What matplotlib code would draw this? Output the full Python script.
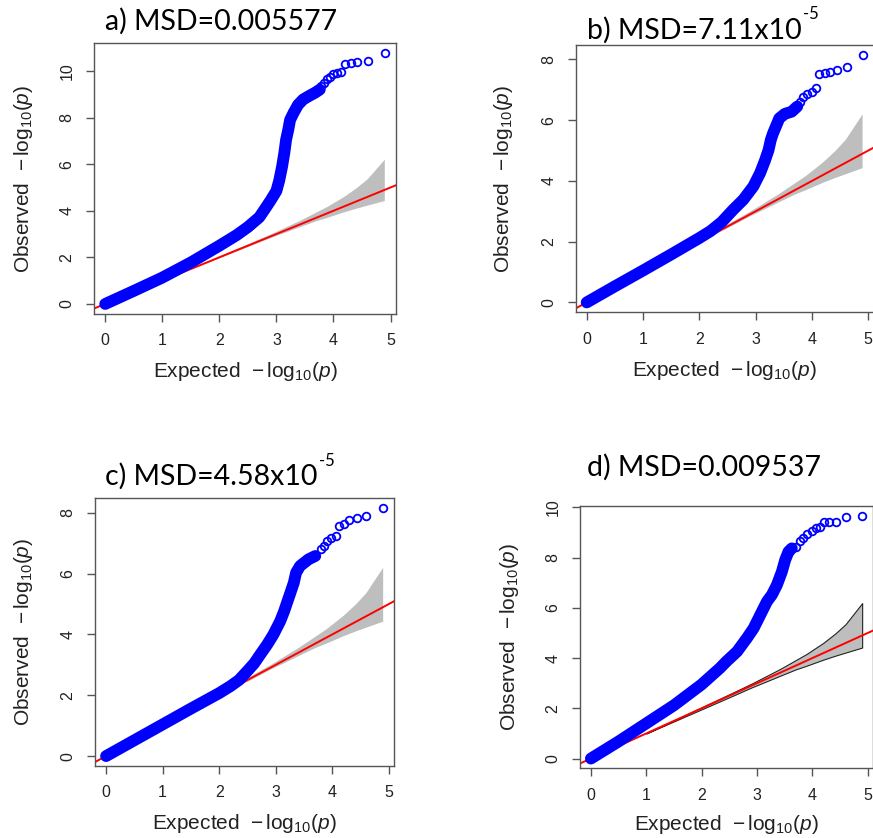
import matplotlib
matplotlib.use("Agg")
import matplotlib.pyplot as plt

# ---------------- data ----------------
titles = ["a) MSD=0.005577", "b) MSD=7.11x10", "c) MSD=4.58x10", "d) MSD=0.009537"]
title_sups = ["", "-5", "-5", ""]

x_ticks = [0, 1, 2, 3, 4, 5]
a_y_ticks = [0, 2, 4, 6, 8, 10]
b_y_ticks = [0, 2, 4, 6, 8]
c_y_ticks = [0, 2, 4, 6, 8]
d_y_ticks = [0, 2, 4, 6, 8, 10]

# dense part of each QQ curve (expected, observed)
a_dense_x = [0, 0.5, 1.0, 1.5, 2.0, 2.3, 2.5, 2.7, 2.8, 2.9, 3.0, 3.05, 3.1, 3.14, 3.17, 3.21, 3.24, 3.30, 3.38, 3.47, 3.59, 3.68, 3.76]
a_dense_y = [0, 0.56, 1.13, 1.78, 2.5, 2.95, 3.3, 3.72, 4.08, 4.45, 4.85, 5.3, 5.9, 6.5, 7.05, 7.5, 7.9, 8.2, 8.55, 8.78, 8.95, 9.07, 9.2]
a_sparse_x = [3.79, 3.83, 3.88, 3.94, 4.00, 4.07, 4.13, 4.21, 4.30, 4.42, 4.60, 4.90]
a_sparse_y = [9.35, 9.50, 9.64, 9.75, 9.85, 9.93, 9.95, 10.30, 10.33, 10.40, 10.43, 10.77]

b_dense_x = [0, 0.5, 1.0, 1.5, 2.0, 2.2, 2.4, 2.6, 2.78, 2.96, 3.08, 3.17, 3.23, 3.27, 3.31, 3.36, 3.42, 3.52, 3.64, 3.74]
b_dense_y = [0, 0.53, 1.05, 1.58, 2.12, 2.35, 2.65, 3.05, 3.38, 3.82, 4.26, 4.69, 5.02, 5.35, 5.57, 5.79, 6.06, 6.21, 6.28, 6.45]
b_sparse_x = [3.79, 3.85, 3.92, 4.00, 4.07, 4.13, 4.23, 4.32, 4.44, 4.62, 4.91]
b_sparse_y = [6.61, 6.78, 6.87, 6.94, 7.05, 7.51, 7.57, 7.60, 7.65, 7.74, 8.15]

c_dense_x = [0, 0.5, 1.0, 1.5, 2.0, 2.2, 2.35, 2.5, 2.62, 2.73, 2.85, 2.96, 3.08, 3.15, 3.21, 3.26, 3.32, 3.36, 3.43, 3.58, 3.70]
c_dense_y = [0, 0.52, 1.04, 1.56, 2.07, 2.3, 2.5, 2.8, 3.05, 3.35, 3.67, 4.0, 4.44, 4.77, 5.10, 5.37, 5.70, 6.03, 6.25, 6.47, 6.58]
c_sparse_x = [3.80, 3.85, 3.90, 3.98, 4.06, 4.12, 4.21, 4.30, 4.43, 4.60, 4.90]
c_sparse_y = [6.80, 6.91, 7.07, 7.18, 7.24, 7.57, 7.62, 7.75, 7.82, 7.88, 8.17]

d_dense_x = [0, 0.5, 1.0, 1.5, 2.0, 2.33, 2.45, 2.64, 2.82, 2.94, 3.06, 3.18, 3.27, 3.36, 3.45, 3.51, 3.57, 3.63]
d_dense_y = [0, 0.68, 1.40, 2.12, 2.95, 3.60, 3.87, 4.26, 4.80, 5.19, 5.72, 6.25, 6.52, 6.91, 7.44, 7.91, 8.24, 8.37]
d_sparse_x = [3.71, 3.77, 3.84, 3.91, 3.99, 4.07, 4.13, 4.21, 4.31, 4.43, 4.60, 4.90]
d_sparse_y = [8.44, 8.66, 8.79, 8.93, 9.06, 9.17, 9.22, 9.40, 9.40, 9.40, 9.60, 9.67]

# confidence band (same in all panels)
band_x = [1.0, 1.5, 2.0, 2.5, 2.9, 3.2, 3.42, 3.7, 3.9, 4.2, 4.42, 4.6, 4.9]
band_upper = [1.0, 1.52, 2.04, 2.56, 2.98, 3.32, 3.57, 3.92, 4.17, 4.61, 4.99, 5.35, 6.19]
band_lower = [1.0, 1.48, 1.96, 2.44, 2.83, 3.10, 3.30, 3.55, 3.70, 3.94, 4.10, 4.22, 4.42]

# ---------------- layout ----------------
W, H = 873, 838
plt.rcParams['mathtext.fontset'] = 'custom'
plt.rcParams['mathtext.rm'] = 'Liberation Sans'
plt.rcParams['mathtext.it'] = 'Liberation Sans:italic'
plt.rcParams['font.family'] = ['Liberation Sans', 'DejaVu Sans']

fig = plt.figure(figsize=(W / 100, H / 100), dpi=100)
fig.patch.set_facecolor('white')

panels = [
    dict(rect=[0.1077, 0.6253, 0.3459, 0.3234], dx=a_dense_x, dy=a_dense_y, sx=a_sparse_x, sy=a_sparse_y,
         yt=a_y_ticks, edge=False, ylab=-0.235, xlab=-0.214, tpos=(105, 29.7)),
    dict(rect=[0.6594, 0.6273, 0.3413, 0.3190], dx=b_dense_x, dy=b_dense_y, sx=b_sparse_x, sy=b_sparse_y,
         yt=b_y_ticks, edge=False, ylab=-0.243, xlab=-0.216, tpos=(586.7, 38.3)),
    dict(rect=[0.1088, 0.0859, 0.3428, 0.3202], dx=c_dense_x, dy=c_dense_y, sx=c_sparse_x, sy=c_sparse_y,
         yt=c_y_ticks, edge=False, ylab=-0.240, xlab=-0.214, tpos=(105, 485)),
    dict(rect=[0.6644, 0.0832, 0.3356, 0.3130], dx=d_dense_x, dy=d_dense_y, sx=d_sparse_x, sy=d_sparse_y,
         yt=d_y_ticks, edge=True, ylab=-0.239, xlab=-0.216, tpos=(586.7, 476)),
]

spine_col = '#555555'
blue = '#0000FF'

for i, p in enumerate(panels):
    ax = fig.add_axes(p['rect'])
    ymax = max(p['sy'])
    xmax = 4.9
    ax.set_xlim(-0.04 * xmax, 1.04 * xmax)
    ax.set_ylim(-0.04 * ymax, 1.04 * ymax)

    # band
    if p['edge']:
        ax.fill_between(band_x, band_lower, band_upper, facecolor='#BEBEBE', edgecolor='#222222',
                        linewidth=0.8, zorder=1)
    else:
        ax.fill_between(band_x, band_lower, band_upper, facecolor='#BEBEBE', edgecolor='none',
                        linewidth=0, zorder=1)
    # y = x line
    ax.axline((0, 0), slope=1, color='#FF0000', lw=1.4, zorder=2)
    # dense points
    ax.plot(p['dx'], p['dy'], color=blue, lw=8.5, solid_capstyle='round', solid_joinstyle='round', zorder=3)
    # sparse points
    ax.plot(p['sx'], p['sy'], linestyle='none', marker='o', markersize=5.5, markerfacecolor='none',
            markeredgecolor=blue, markeredgewidth=1.3, zorder=4)

    ax.set_xticks(x_ticks)
    ax.set_yticks(p['yt'])
    ax.tick_params(axis='both', direction='out', length=6, width=1.0, color=spine_col,
                   labelsize=11.5, labelcolor='#222222', pad=8)
    for lab in ax.get_yticklabels():
        lab.set_rotation(90)
        lab.set_va('center')
    for s in ax.spines.values():
        s.set_color(spine_col)
        s.set_linewidth(1.0)

    ax.set_xlabel(r"Expected  $-\,\mathrm{log}_{10}(\mathit{p})$", fontsize=15, color='#222222', va='center')
    ax.set_ylabel(r"Observed  $-\,\mathrm{log}_{10}(\mathit{p})$", fontsize=15, color='#222222', va='center')
    ax.xaxis.set_label_coords(0.5, p['xlab'])
    ax.yaxis.set_label_coords(p['ylab'], 0.5)

    # title (placed in figure pixels, like the source layout)
    tx, ty = p['tpos']
    t = fig.text(tx / W, 1 - ty / H, titles[i], family='Lato', fontsize=20.5, color='black',
                 ha='left', va='baseline')
    if title_sups[i]:
        fig.canvas.draw()
        ax.annotate(title_sups[i], xy=(1.0, 1.0), xycoords=t, xytext=(1, -4), textcoords='offset points',
                    family='Lato', fontsize=12, ha='left', va='bottom', annotation_clip=False)

fig.savefig('out.png', dpi=100, facecolor='white')
